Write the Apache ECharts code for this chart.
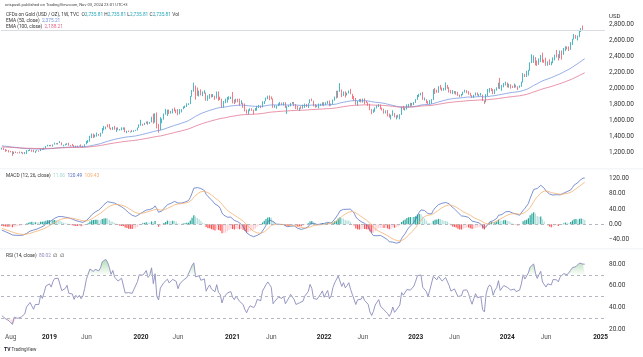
<!DOCTYPE html>
<html><head><meta charset="utf-8">
<script src="https://cdn.jsdelivr.net/npm/echarts@6.0.0/dist/echarts.min.js"></script>
<style>html,body{margin:0;padding:0;background:#fff;}#c{width:643px;height:357px;}</style>
</head><body><div id="c"></div>
<script>
// ---------- DATA (weekly, week starting Monday 2018-07-02) ----------
const open2018=[1253,1255,1241,1231,1223,1214,1212,1184,1206,1201,1198,1194,1199,1192,1203,1222,1227,1235,1233,1209,1222,1223,1222,1248,1238,1257];
const close2018=[1255,1241,1231,1223,1214,1212,1184,1206,1201,1198,1194,1199,1192,1203,1222,1227,1235,1233,1209,1222,1223,1222,1248,1238,1257,1281];
const low2018=[1238,1235,1211,1219,1204,1205,1160,1183,1196,1191,1191,1193,1182,1182,1184,1218,1221,1211,1207,1196,1217,1212,1221,1235,1236,1256];
const high2018=[1262,1262,1246,1236,1233,1222,1219,1214,1215,1206,1214,1211,1205,1208,1233,1233,1243,1238,1237,1225,1231,1230,1251,1252,1263,1284];

const open2019=[1281,1285,1290,1282,1304,1318,1314,1322,1328,1294,1298,1302,1313,1292,1291,1290,1275,1286,1280,1286,1277,1284,1305,1341,1341,1399,1409,1400,1415,1426,1419,1440,1497,1513,1527,1520,1507,1488,1517,1497,1505,1489,1490,1505,1514,1459,1468,1462,1464,1460,1476,1478];
const close2019=[1285,1290,1282,1304,1318,1314,1322,1328,1294,1298,1302,1313,1292,1291,1290,1275,1286,1280,1286,1277,1284,1305,1341,1341,1399,1409,1400,1415,1426,1419,1440,1497,1513,1527,1520,1507,1488,1517,1497,1505,1489,1490,1505,1514,1459,1468,1462,1464,1460,1476,1478,1511];
const low2019=[1278,1280,1280,1276,1300,1304,1302,1320,1292,1281,1290,1298,1287,1280,1284,1270,1266,1266,1279,1272,1267,1275,1305,1321,1337,1382,1382,1392,1401,1411,1400,1440,1480,1492,1517,1500,1485,1484,1487,1459,1481,1478,1480,1487,1456,1445,1457,1452,1457,1458,1471,1477];
const high2019=[1299,1298,1298,1304,1326,1320,1323,1346,1330,1300,1311,1320,1324,1297,1310,1295,1288,1289,1290,1304,1287,1306,1348,1358,1411,1439,1439,1427,1452,1434,1449,1510,1535,1528,1555,1557,1513,1523,1535,1513,1517,1496,1517,1516,1516,1474,1476,1466,1484,1479,1485,1514];

const open2020=[1511,1552,1562,1557,1571,1589,1570,1584,1643,1585,1674,1530,1498,1617,1620,1683,1683,1727,1700,1702,1743,1735,1730,1683,1730,1743,1771,1775,1798,1810,1902,1975,2035,1944,1940,1964,1933,1940,1950,1862,1900,1930,1899,1902,1879,1951,1889,1871,1788,1839,1839,1881];
const close2020=[1552,1562,1557,1571,1589,1570,1584,1643,1585,1674,1530,1498,1617,1620,1683,1683,1727,1700,1702,1743,1735,1730,1683,1730,1743,1771,1775,1798,1810,1902,1975,2035,1944,1940,1964,1933,1940,1950,1862,1900,1930,1899,1902,1879,1951,1889,1871,1788,1839,1839,1881,1883];
const low2020=[1510,1536,1535,1546,1563,1548,1562,1580,1563,1576,1504,1451,1482,1567,1613,1677,1659,1683,1688,1691,1717,1693,1670,1680,1703,1743,1757,1771,1795,1807,1900,1962,1863,1911,1902,1916,1907,1938,1849,1848,1873,1890,1894,1860,1877,1850,1858,1764,1764,1820,1826,1863];
const high2020=[1554,1611,1560,1574,1590,1592,1584,1649,1689,1692,1703,1561,1645,1627,1690,1747,1738,1738,1722,1751,1765,1739,1745,1745,1745,1779,1789,1818,1818,1909,1984,2075,2039,2015,1976,1992,1966,1982,1953,1917,1933,1933,1933,1912,1965,1966,1900,1875,1848,1875,1897,1906];

const open2021=[1883,1895,1849,1828,1856,1847,1813,1824,1784,1734,1700,1727,1745,1733,1728,1744,1777,1777,1769,1831,1844,1881,1905,1891,1877,1764,1781,1787,1808,1812,1801,1814,1763,1780,1781,1818,1827,1787,1754,1750,1761,1757,1768,1793,1783,1818,1865,1846,1788,1783,1783,1798,1811];
const close2021=[1895,1849,1828,1856,1847,1813,1824,1784,1734,1700,1727,1745,1733,1728,1744,1777,1777,1769,1831,1844,1881,1905,1891,1877,1764,1781,1787,1808,1812,1801,1814,1763,1780,1781,1818,1827,1787,1754,1750,1761,1757,1768,1793,1783,1818,1865,1846,1788,1783,1783,1798,1811,1829];
const low2021=[1870,1817,1808,1826,1831,1785,1807,1760,1716,1687,1677,1719,1723,1677,1723,1725,1760,1756,1766,1808,1843,1868,1856,1866,1761,1761,1750,1782,1791,1794,1790,1759,1684,1772,1779,1810,1782,1745,1737,1721,1746,1750,1760,1770,1758,1817,1844,1778,1762,1770,1753,1785,1789];
const high2021=[1900,1959,1865,1875,1875,1875,1855,1825,1815,1740,1740,1755,1755,1740,1759,1785,1797,1790,1843,1846,1890,1913,1916,1903,1878,1795,1790,1818,1834,1825,1832,1831,1783,1795,1823,1834,1834,1809,1787,1764,1781,1800,1814,1810,1818,1868,1877,1850,1808,1793,1815,1813,1831];

const open2022=[1829,1797,1818,1835,1791,1808,1860,1898,1889,1970,1988,1921,1958,1925,1945,1974,1932,1896,1883,1811,1846,1853,1851,1871,1840,1827,1811,1742,1703,1727,1766,1775,1802,1747,1737,1712,1716,1675,1644,1661,1695,1644,1657,1645,1681,1771,1751,1755,1797,1797,1793,1798];
const close2022=[1797,1818,1835,1791,1808,1860,1898,1889,1970,1988,1921,1958,1925,1945,1974,1932,1896,1883,1811,1846,1853,1851,1871,1840,1827,1811,1742,1703,1727,1766,1775,1802,1747,1737,1712,1716,1675,1644,1661,1695,1644,1657,1645,1681,1771,1751,1755,1797,1797,1793,1798,1824];
const low2022=[1782,1796,1810,1780,1788,1806,1850,1878,1887,1960,1895,1910,1890,1915,1940,1930,1872,1850,1799,1786,1837,1828,1825,1805,1822,1784,1732,1681,1698,1711,1754,1771,1745,1728,1688,1691,1654,1639,1615,1660,1641,1617,1638,1617,1671,1737,1727,1740,1767,1775,1785,1795];
const high2022=[1831,1830,1848,1853,1815,1865,1902,1975,1974,2070,1990,1966,1966,1950,1978,1998,1936,1910,1884,1849,1870,1874,1877,1879,1848,1831,1813,1745,1740,1767,1794,1807,1802,1764,1750,1729,1735,1688,1675,1730,1697,1667,1675,1682,1774,1786,1760,1804,1810,1824,1823,1833];

const open2023=[1824,1865,1921,1926,1928,1865,1865,1842,1811,1856,1868,1989,1978,1969,2008,2004,1983,1990,2017,2011,1977,1946,1948,1961,1958,1921,1919,1925,1955,1962,1959,1943,1914,1889,1915,1940,1919,1924,1925,1849,1833,1932,1981,2006,1992,1940,1981,2002,2072,2004,2020,2053];
const close2023=[1865,1921,1926,1928,1865,1865,1842,1811,1856,1868,1989,1978,1969,2008,2004,1983,1990,2017,2011,1977,1946,1948,1961,1958,1921,1919,1925,1955,1962,1959,1943,1914,1889,1915,1940,1919,1924,1925,1849,1833,1932,1981,2006,1992,1940,1981,2002,2072,2004,2020,2053,2063];
const low2023=[1823,1860,1896,1917,1861,1852,1819,1808,1805,1810,1858,1934,1950,1950,1990,1970,1975,1980,2000,1951,1940,1933,1938,1925,1910,1893,1903,1920,1952,1943,1925,1910,1885,1884,1913,1915,1901,1913,1846,1810,1830,1908,1953,1970,1931,1932,1976,2000,1995,1974,2017,2040];
const high2023=[1870,1922,1936,1949,1960,1890,1870,1845,1858,1870,1994,2009,1987,2032,2048,2015,2010,2079,2048,2020,1985,1983,1970,1970,1961,1928,1935,1963,1987,1982,1970,1949,1919,1925,1953,1953,1932,1947,1926,1853,1933,1997,2009,2010,1994,1993,2018,2075,2135,2047,2071,2088];

const open2024=[2063,2045,2049,2029,2018,2039,2024,2013,2036,2083,2179,2155,2165,2230,2329,2344,2392,2337,2301,2360,2415,2334,2327,2293,2333,2322,2326,2392,2411,2400,2387,2443,2431,2507,2512,2503,2497,2577,2621,2658,2653,2656,2721,2747,2735.81];
const close2024=[2045,2049,2029,2018,2039,2024,2013,2036,2083,2179,2155,2165,2230,2329,2344,2392,2337,2301,2360,2415,2334,2327,2293,2333,2322,2326,2392,2411,2400,2387,2443,2431,2507,2512,2503,2497,2577,2621,2658,2653,2656,2721,2747,2736,2735.81];
const low2024=[2016,2013,2001,2009,2010,2015,1984,2011,2024,2078,2146,2146,2164,2225,2320,2324,2291,2285,2298,2333,2326,2324,2287,2286,2296,2293,2318,2353,2390,2353,2381,2364,2423,2470,2491,2471,2485,2546,2615,2624,2603,2645,2708,2729,2735.81];
const high2024=[2078,2062,2056,2037,2065,2050,2030,2041,2088,2195,2185,2223,2236,2330,2431,2418,2395,2353,2378,2422,2450,2364,2388,2342,2368,2340,2392,2425,2484,2432,2477,2477,2509,2531,2528,2529,2582,2625,2685,2672,2664,2724,2758,2790,2735.81];

const ema50Start = 1286, ema100Start = 1272;
const ema12Start = 1282, ema26Start = 1296, signalStart = -10;
const rsiPrevClose = 1253, rsiAvgGainStart = 7, rsiAvgLossStart = 15;

// legend texts
const emaLegend = ['2,375.21', '2,188.21'];
const macdLegend = ['11.06', '120.49', '109.43'];
const rsiLegend = '80.02';

// time axis tick labels
const timeTicks = [
  ['2018-08-06','Aug',0],['2019-01-07','2019',1],['2019-06-03','Jun',0],['2020-01-06','2020',1],
  ['2020-06-01','Jun',0],['2021-01-04','2021',1],['2021-06-07','Jun',0],['2022-01-03','2022',1],
  ['2022-06-06','Jun',0],['2023-01-02','2023',1],['2023-06-05','Jun',0],['2024-01-01','2024',1],
  ['2024-06-03','Jun',0],['2025-01-06','2025',1]
];

// ---------- BUILD ----------
const opens = [].concat(open2018,open2019,open2020,open2021,open2022,open2023,open2024);
const closes = [].concat(close2018,close2019,close2020,close2021,close2022,close2023,close2024);
const lows = [].concat(low2018,low2019,low2020,low2021,low2022,low2023,low2024);
const highs = [].concat(high2018,high2019,high2020,high2021,high2022,high2023,high2024);
if (!(opens.length===closes.length && lows.length===closes.length && highs.length===closes.length)) {
  throw new Error('length mismatch '+opens.length+' '+closes.length+' '+lows.length+' '+highs.length);
}

const N_CAT = 343;
const categories = [];
for (let i = 0; i < N_CAT; i++) {
  const d = new Date(Date.UTC(2018, 6, 2) + i * 7 * 86400000);
  categories.push(d.toISOString().slice(0, 10));
}

const candles = closes.map((c, i) => [opens[i], c, lows[i], highs[i]]);

function ema(src, period, start) {
  const k = 2 / (period + 1); let e = start;
  return src.map(v => { e = v * k + e * (1 - k); return e; });
}
const ema50 = ema(closes, 50, ema50Start);
const ema100 = ema(closes, 100, ema100Start);
const e12 = ema(closes, 12, ema12Start), e26 = ema(closes, 26, ema26Start);
const macd = e12.map((v, i) => v - e26[i]);
const signal = ema(macd, 9, signalStart);
const hist = macd.map((v, i) => v - signal[i]);

const rsi = [];
{
  let ag = rsiAvgGainStart, al = rsiAvgLossStart, pc = rsiPrevClose;
  closes.forEach(c => {
    const ch = c - pc; pc = c;
    ag = (ag * 13 + Math.max(ch, 0)) / 14;
    al = (al * 13 + Math.max(-ch, 0)) / 14;
    rsi.push(100 - 100 / (1 + ag / al));
  });
}

const UP = '#22a6b8', DOWN = '#ef5b67';
const EMA50_C = '#6d8fdc', EMA100_C = '#e06a8a';
const MACD_C = '#5670c4', SIG_C = '#f4ad6c', RSI_C = '#8a8cbc';

const histData = hist.map((v, i) => {
  const p = i > 0 ? hist[i - 1] : v; let c;
  if (v >= 0) c = v >= p ? '#26a69a' : '#b2dfdb';
  else c = v <= p ? '#ff5252' : '#ffcdd2';
  return { value: v, itemStyle: { color: c } };
});

const tickMap = {};
timeTicks.forEach(t => { tickMap[t[0]] = t[2] ? '{y|' + t[1] + '}' : '{m|' + t[1] + '}'; });

const FONT = 'Roboto, "Liberation Sans", sans-serif';
const fmt2 = v => v.toLocaleString('en-US', { minimumFractionDigits: 2, maximumFractionDigits: 2 });
const last = closes.length - 1;

function yAx(gi, min, max, interval, fmt) {
  return {
    type: 'value', gridIndex: gi, position: 'right', min, max, interval, scale: false,
    axisLine: { show: false }, axisTick: { show: false }, splitLine: { show: false },
    axisLabel: { fontSize: 6.5, color: '#333', margin: 4, fontFamily: FONT, formatter: fmt }
  };
}
function xAx(gi, show) {
  return {
    type: 'category', gridIndex: gi, data: categories, boundaryGap: true, show: show,
    axisLine: { show: false }, axisTick: { show: false }, splitLine: { show: false },
    axisLabel: show ? {
      interval: (idx, val) => tickMap[val] !== undefined,
      formatter: (val) => tickMap[val] || '',
      margin: 8, fontFamily: FONT,
      rich: {
        y: { fontSize: 6.5, fontWeight: 'bold', color: '#222', fontFamily: FONT },
        m: { fontSize: 6.5, color: '#555', fontFamily: FONT }
      }
    } : { show: false }
  };
}

const rich5 = (fill) => ({ fill: fill, fontSize: 4.8, fontFamily: FONT });

const option = {
  animation: false,
  backgroundColor: '#ffffff',
  textStyle: { fontFamily: FONT },
  grid: [
    { left: 1, top: 8.7, width: 604, height: 160 },
    { left: 1, top: 162.9, width: 604, height: 92.2 },
    { left: 1, top: 242.3, width: 604, height: 108.4 },
    { left: 1, top: 325, width: 604, height: 1 }
  ],
  xAxis: [xAx(0, false), xAx(1, false), xAx(2, false), xAx(3, true)],
  yAxis: [
    yAx(0, 1000, 3000, 200, v => (v === 1000 || v === 3000) ? '' : fmt2(v)),
    yAx(1, -80, 160, 40, v => (v === -80 || v === 160) ? '' : (v < 0 ? '\u2212' : '') + Math.abs(v).toFixed(2)),
    yAx(2, 0, 100, 20, v => (v === 0 || v === 100) ? '' : v.toFixed(2)),
    { type: 'value', gridIndex: 3, show: false, min: 0, max: 1 }
  ],
  graphic: [
    { type: 'rect', shape: { x: 0, y: 168.5, width: 643, height: 0.8 }, style: { fill: '#eceef2' }, silent: true },
    { type: 'rect', shape: { x: 0, y: 248.5, width: 643, height: 0.8 }, style: { fill: '#eceef2' }, silent: true },
    { type: 'text', left: 5, top: 3, silent: true,
      style: { text: 'crispus6 published on TradingView.com, Nov 03, 2024 23:01 UTC+3', fontSize: 4.1, fontFamily: FONT, fill: '#444' } },
    { type: 'text', left: 6, top: 12.5, silent: true,
      style: { text: 'CFDs on Gold (USD / OZ), 1W, TVC  O{v|' + fmt2(opens[last]) + '} H{v|' + fmt2(highs[last]) + '} L{v|' + fmt2(lows[last]) + '} C{v|' + fmt2(closes[last]) + '} Vol',
        fontSize: 4.8, fontFamily: FONT, fill: '#333', rich: { v: rich5(UP) } } },
    { type: 'text', left: 6, top: 18.3, silent: true,
      style: { text: 'EMA (50, close)  {v|' + emaLegend[0] + '}', fontSize: 4.8, fontFamily: FONT, fill: '#333', rich: { v: rich5(EMA50_C) } } },
    { type: 'text', left: 6, top: 24.3, silent: true,
      style: { text: 'EMA (100, close)  {v|' + emaLegend[1] + '}', fontSize: 4.8, fontFamily: FONT, fill: '#333', rich: { v: rich5(EMA100_C) } } },
    { type: 'text', left: 609, top: 13, silent: true,
      style: { text: 'USD', fontSize: 6, fontFamily: FONT, fill: '#333' } },
    { type: 'text', left: 6, top: 173.3, silent: true,
      style: { text: 'MACD (12, 26, close)  {h|' + macdLegend[0] + '}  {m|' + macdLegend[1] + '}  {s|' + macdLegend[2] + '}',
        fontSize: 4.8, fontFamily: FONT, fill: '#333', rich: { h: rich5('#9fd8d2'), m: rich5(MACD_C), s: rich5(SIG_C) } } },
    { type: 'text', left: 6, top: 253.3, silent: true,
      style: { text: 'RSI (14, close)  {r|' + rsiLegend + '}  \u2205  \u2205', fontSize: 4.8, fontFamily: FONT, fill: '#333', rich: { r: rich5(RSI_C) } } },
    { type: 'text', left: 4, top: 347.5, silent: true,
      style: { text: '{l|TV} TradingView', fontSize: 4.5, fontFamily: FONT, fill: '#333',
        rich: { l: { fontSize: 5, fontWeight: 'bold', fill: '#131722', fontFamily: FONT } } } }
  ],
  series: [
    { type: 'candlestick', xAxisIndex: 0, yAxisIndex: 0, data: candles, barWidth: 1,
      itemStyle: { color: UP, color0: DOWN, borderColor: UP, borderColor0: DOWN, borderWidth: 0.8 },
      markLine: { silent: true, symbol: ['none', 'none'], label: { show: false },
        lineStyle: { color: '#d9dce2', width: 1, type: 'solid' }, data: [{ yAxis: closes[last] }] } },
    { type: 'line', xAxisIndex: 0, yAxisIndex: 0, data: ema50, symbol: 'none', lineStyle: { color: EMA50_C, width: 0.9, opacity: 0.8 } },
    { type: 'line', xAxisIndex: 0, yAxisIndex: 0, data: ema100, symbol: 'none', lineStyle: { color: EMA100_C, width: 0.9, opacity: 0.8 } },
    { type: 'bar', xAxisIndex: 1, yAxisIndex: 1, data: histData, barWidth: 1.2,
      markLine: { silent: true, symbol: ['none', 'none'], label: { show: false },
        lineStyle: { color: '#b4b7bf', width: 1, type: [3, 3] }, data: [{ yAxis: 0 }] } },
    { type: 'line', xAxisIndex: 1, yAxisIndex: 1, data: macd, symbol: 'none', lineStyle: { color: MACD_C, width: 0.9, opacity: 0.85 } },
    { type: 'line', xAxisIndex: 1, yAxisIndex: 1, data: signal, symbol: 'none', lineStyle: { color: SIG_C, width: 0.9, opacity: 0.85 } },
    { type: 'line', xAxisIndex: 2, yAxisIndex: 2, stack: 'ob', data: rsi.map(() => 70), symbol: 'none', lineStyle: { opacity: 0 }, silent: true },
    { type: 'line', xAxisIndex: 2, yAxisIndex: 2, stack: 'ob', data: rsi.map(v => Math.max(v - 70, 0)), symbol: 'none', lineStyle: { opacity: 0 }, silent: true,
      areaStyle: { color: new echarts.graphic.LinearGradient(0, 0, 0, 1, [{ offset: 0, color: 'rgba(76,175,80,0.6)' }, { offset: 1, color: 'rgba(76,175,80,0.03)' }]) } },
    { type: 'line', xAxisIndex: 2, yAxisIndex: 2, stack: 'os', data: rsi.map(v => Math.min(v, 30)), symbol: 'none', lineStyle: { opacity: 0 }, silent: true },
    { type: 'line', xAxisIndex: 2, yAxisIndex: 2, stack: 'os', data: rsi.map(v => 30 - Math.min(v, 30)), symbol: 'none', lineStyle: { opacity: 0 }, silent: true,
      areaStyle: { color: new echarts.graphic.LinearGradient(0, 0, 0, 1, [{ offset: 0, color: 'rgba(242,54,69,0.03)' }, { offset: 1, color: 'rgba(242,54,69,0.5)' }]) } },
    { type: 'line', xAxisIndex: 2, yAxisIndex: 2, data: rsi, symbol: 'none', lineStyle: { color: RSI_C, width: 0.9 },
      markLine: { silent: true, symbol: ['none', 'none'], label: { show: false },
        lineStyle: { color: '#b4b7bf', width: 1, type: [3, 3] }, data: [{ yAxis: 70 }, { yAxis: 50 }, { yAxis: 30 }] } }
  ]
};

const chart = echarts.init(document.getElementById('c'), null, { renderer: 'canvas' });
chart.setOption(option);
</script></body></html>
